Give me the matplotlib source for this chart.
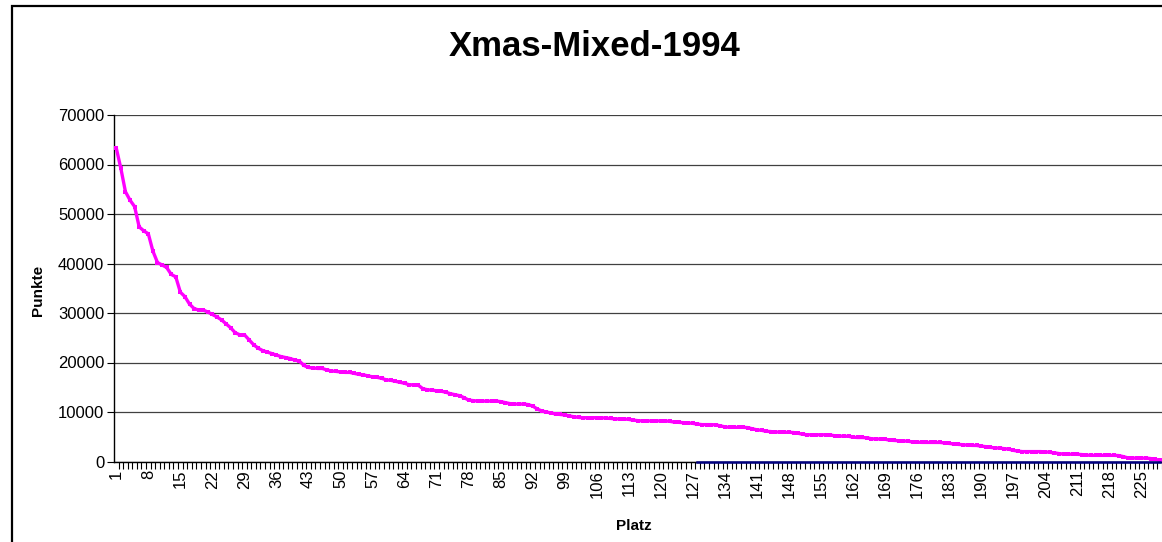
import matplotlib
matplotlib.use("Agg")
import matplotlib.pyplot as plt
from matplotlib.patches import Rectangle
from matplotlib.ticker import FixedLocator, MultipleLocator

plt.rcParams['font.family'] = ['Liberation Sans', 'DejaVu Sans']

title = 'Xmas-Mixed-1994'
x_label = 'Platz'
y_label = 'Punkte'

# Punkte per Platz
punkte = [
    63300, 59200, 54500, 52800, 51500, 47400, 46600, 46000, 42500, 40200,
    39700, 39200, 37800, 37300, 34200, 33300, 31800, 30900, 30600, 30600,
    30200, 29700, 29200, 28600, 27800, 27000, 26000, 25600, 25600, 24600,
    23600, 22900, 22400, 22100, 21800, 21500, 21200, 21000, 20800, 20500,
    20300, 19400, 19000, 18900, 18800, 18800, 18500, 18300, 18200, 18100,
    18000, 18000, 17800, 17600, 17500, 17300, 17100, 17000, 16800, 16500,
    16400, 16200, 16000, 15800, 15500, 15500, 15400, 14700, 14500, 14400,
    14300, 14200, 14000, 13700, 13500, 13300, 12900, 12400, 12300, 12200,
    12200, 12200, 12200, 12200, 12100, 11900, 11700, 11600, 11600, 11600,
    11500, 11200, 10600, 10200, 10000, 9800, 9600, 9500, 9400, 9200,
    9050, 8900, 8850, 8850, 8850, 8850, 8850, 8750, 8700, 8600,
    8600, 8600, 8500, 8350, 8250, 8200, 8200, 8200, 8200, 8200,
    8200, 8100, 7950, 7900, 7850, 7800, 7700, 7550, 7450, 7450,
    7450, 7400, 7200, 7000, 6900, 6900, 6900, 6900, 6850, 6600,
    6400, 6300, 6100, 6050, 5950, 5950, 5900, 5900, 5850, 5700,
    5500, 5400, 5400, 5400, 5400, 5400, 5350, 5200, 5150, 5100,
    5100, 4900, 4850, 4850, 4800, 4600, 4550, 4550, 4500, 4300,
    4250, 4200, 4150, 4100, 3950, 3900, 3860, 3860, 3860, 3860,
    3850, 3750, 3650, 3550, 3450, 3400, 3300, 3250, 3240, 3100,
    3000, 2850, 2760, 2700, 2600, 2500, 2250, 2100, 2000, 2000,
    2000, 2000, 2000, 1950, 1850, 1750, 1600, 1500, 1500, 1450,
    1450, 1400, 1300, 1240, 1240, 1240, 1240, 1240, 1240, 1200,
    1000, 750, 700, 700, 700, 680, 600, 450, 250,
]
platz = list(range(1, len(punkte) + 1))

# second (dark blue) series, only present from Platz 128 on, all zero
platz2 = list(range(128, len(punkte) + 1))
punkte2 = [0] * len(platz2)

W, H = 1162, 542
fig = plt.figure(figsize=(W / 100, H / 100), dpi=100)

# outer chart border (cut by the image on the right and bottom)
fig.add_artist(Rectangle((12 / W, -0.2), 1.5, 1.2 - 6 / H, transform=fig.transFigure,
                         fill=False, edgecolor='black', linewidth=1.6))

left, right = 114 / W, 1.0
bottom, top = 1 - 461.5 / H, 1 - 115 / H
ax = fig.add_axes([left, bottom, right - left, top - bottom])

ax.plot(platz2, punkte2, color='#000080', linewidth=1.8, zorder=5, clip_on=False)
ax.plot(platz, punkte, color='#FF00FF', linewidth=2.4, marker='s', markersize=2.2,
        markeredgewidth=0, zorder=4, solid_joinstyle='round')

ax.set_xlim(0.5, len(punkte) + 0.5)
ax.set_ylim(0, 70000)

ax.yaxis.set_major_locator(MultipleLocator(10000))
ax.grid(axis='y', color='black', linewidth=0.9, alpha=0.75)
ax.set_axisbelow(True)

ax.xaxis.set_major_locator(FixedLocator(platz[::7]))
ax.set_xticklabels([str(p) for p in platz[::7]], rotation=90)
ax.xaxis.set_minor_locator(FixedLocator([p + 0.5 for p in platz]))
ax.tick_params(axis='x', which='major', length=0, pad=6, labelsize=12)
ax.tick_params(axis='x', which='minor', length=5, width=0.8, color='black')
ax.tick_params(axis='y', which='major', length=5, width=0.8, labelsize=12, pad=2)

for s in ['top', 'right']:
    ax.spines[s].set_visible(False)
for s in ['left', 'bottom']:
    ax.spines[s].set_linewidth(1.0)

fig.text(595 / W, 1 - 47 / H, title, ha='center', va='center', fontsize=25, fontweight='bold')
fig.text(634 / W, 1 - 526 / H, x_label, ha='center', va='center', fontsize=11, fontweight='bold')
fig.text(38 / W, 1 - 290 / H, y_label, ha='center', va='center', fontsize=11,
         fontweight='bold', rotation=90)

fig.savefig('out.png', dpi=100)
